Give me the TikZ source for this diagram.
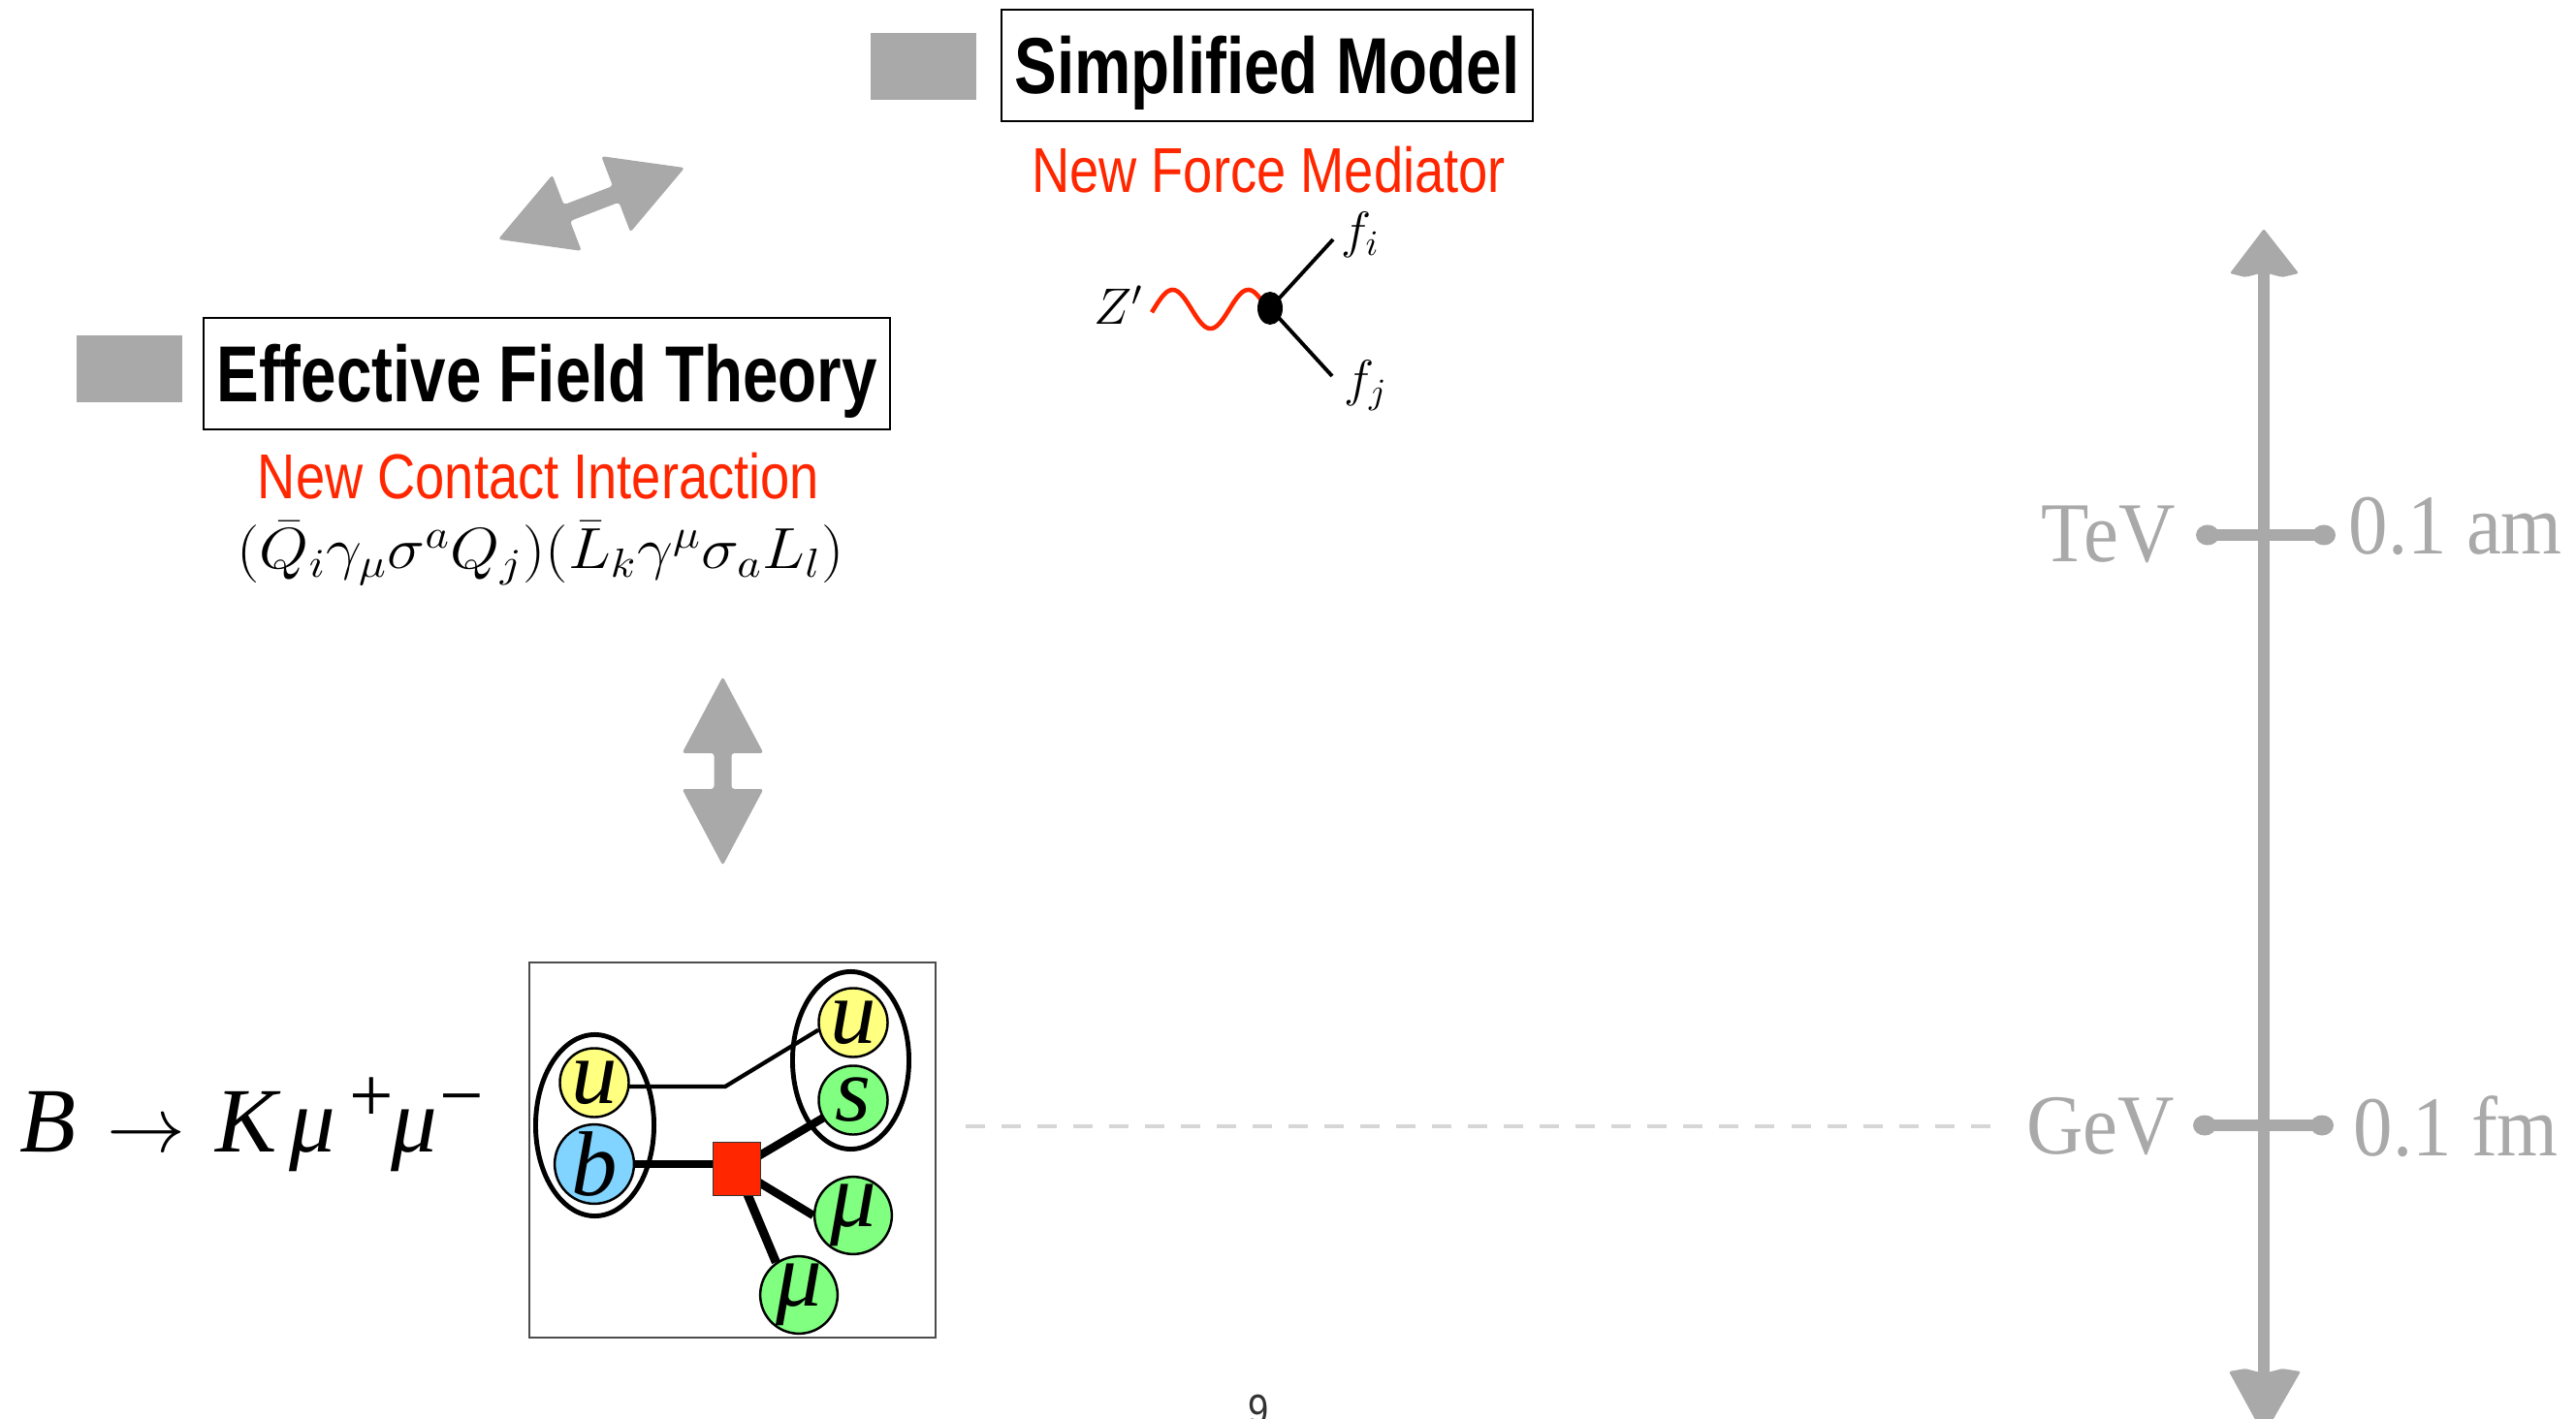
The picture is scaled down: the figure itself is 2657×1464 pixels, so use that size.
\RequirePackage{fix-cm}
\documentclass[tikz,border=0pt]{standalone}
\usepackage{fontspec}
\usetikzlibrary{backgrounds,shapes.geometric}

\newfontfamily\headsans[FakeStretch=0.80]{Liberation Sans}
\newfontfamily\subsans[FakeStretch=0.83]{Liberation Sans}
\newfontfamily\scaleserif[FakeStretch=0.92]{Liberation Serif}
\newfontfamily\quarkserif{Liberation Serif}
\newfontfamily\pagesans[FakeStretch=0.85]{Liberation Sans}

\definecolor{keyred}{RGB}{255,38,0}
\definecolor{sketchgray}{RGB}{169,169,169}
\definecolor{dashgray}{RGB}{214,214,214}
\definecolor{qyellow}{RGB}{255,255,128}
\definecolor{qblue}{RGB}{128,212,255}
\definecolor{qgreen}{RGB}{128,255,128}

\begin{document}
\begin{tikzpicture}[x=0.01cm, y=-0.01cm,
  titlebox/.style={draw=black, line width=0.6pt, inner sep=0pt,
    font={\headsans\bfseries\fontsize{23.3pt}{28pt}\selectfont},
    text height=0.587cm, text depth=0pt},
  marker/.style={fill=sketchgray, draw=none, inner sep=0pt,
    minimum width=1.09cm, minimum height=0.69cm},
  redlabel/.style={text=keyred, inner sep=0pt,
    font={\subsans\fontsize{18.6pt}{22pt}\selectfont},
    text height=0.469cm, text depth=0pt},
  scalelabel/.style={text=sketchgray, inner sep=0pt,
    font={\scaleserif\fontsize{25pt}{30pt}\selectfont}},
  quark/.style={circle, draw=black, line width=0.7pt, minimum size=0.71cm,
    inner sep=0pt, font={\quarkserif\itshape\fontsize{27pt}{30pt}\selectfont}},
  hadron/.style={ellipse, draw=black, line width=1.4pt, inner sep=0pt},
  feynlabel/.style={inner sep=0pt, font={\fontsize{15pt}{18pt}\selectfont}},
  sketcharrow/.style={fill=sketchgray, draw=none, rounded corners=0.03cm},
  tickline/.style={draw=sketchgray, line width=0.12cm},
]
\useasboundingbox (0,0) rectangle (2657,1464);

% ---------- titles ----------
\node[marker] (smmark) at (952.5,68.5) {};
\node[titlebox, minimum width=5.48cm, minimum height=1.15cm] (sm) at (1307,67.5) {Simplified Model};
\node[redlabel] (nfm) at (1308.5,175.5) {New Force Mediator};

\node[marker] (eftmark) at (133.5,380.5) {};
\node[titlebox, minimum width=7.08cm, minimum height=1.15cm] (eft) at (564,385.5) {Effective Field Theory};
\node[redlabel] (nci) at (555.5,491.5) {New Contact Interaction};
\node[inner sep=0pt, anchor=base, font={\fontsize{17pt}{20pt}\selectfont}] (op) at (557.5,587)
  {\scalebox{1.1}[1]{$(\bar{Q}_i\gamma_\mu\sigma^a Q_j)(\bar{L}_k\gamma^\mu\sigma_a L_l)$}};

% ---------- sketched double arrows ----------
\begin{scope}[shift={(610,210)}, rotate=21]
  \fill[sketcharrow] (-103,0) -- (-27,-42) -- (-27,-9) -- (27,-9) -- (27,-42) -- (103,0)
    -- (27,42) -- (27,9) -- (-27,9) -- (-27,42) -- cycle;
\end{scope}
\begin{scope}[shift={(745.5,795.5)}, rotate=90]
  \fill[sketcharrow] (-97.5,0) -- (-18.5,-42) -- (-18.5,-9) -- (18.5,-9) -- (18.5,-42) -- (97.5,0)
    -- (18.5,42) -- (18.5,9) -- (-18.5,9) -- (-18.5,42) -- cycle;
\end{scope}

% ---------- Z' vertex ----------
\node[feynlabel, anchor=east] (zp) at (1180,315) {$Z'$};
\node[ellipse, fill=black, minimum width=0.26cm, minimum height=0.34cm, inner sep=0pt] (vtx) at (1310,318) {};
\coordinate (fiend) at (1375,247);
\coordinate (fjend) at (1374,388);
\node[feynlabel] (fi) at (1403,242) {$f_i$};
\node[feynlabel] (fj) at (1409,398) {$f_j$};
\begin{scope}[on background layer]
  % wavy propagator running into the vertex
  \draw[keyred, line width=1.3pt] plot[domain=0:118, samples=80, smooth]
    (1188+\x, {319-20*sin(4.6154*(\x-2))});
  \draw[line width=1.1pt] (vtx.center) -- (fiend);
  \draw[line width=1.1pt] (vtx.center) -- (fjend);
\end{scope}

% ---------- B -> K mu mu ----------
\node[anchor=base west, inner sep=0pt, font={\quarkserif\itshape\fontsize{27pt}{32pt}\selectfont}] (decay) at (20,1188)
  {\makebox[0.90cm][l]{B}%
   \makebox[1.12cm][l]{\fontsize{23pt}{26pt}\selectfont$\rightarrow$}%
   \makebox[0.76cm][l]{K}%
   \makebox[0.62cm][l]{μ}%
   \makebox[0.43cm][l]{\raisebox{0.30cm}{\fontsize{23pt}{26pt}\selectfont\upshape +}}%
   \makebox[0.50cm][l]{μ}%
   \raisebox{0.30cm}{\fontsize{23pt}{26pt}\selectfont\upshape −}};

\node[draw=black!70, line width=0.45pt, minimum width=4.19cm, minimum height=3.87cm, inner sep=0pt] (frame) at (755.5,1186.5) {};
\node[quark, fill=qyellow] (uL) at (613,1117) {u};
\node[quark, fill=qblue] (bL) at (613,1201) {b};
\node[quark, fill=qyellow] (uR) at (880,1055) {u};
\node[quark, fill=qgreen] (sR) at (880,1135) {s};
\node[quark, fill=qgreen] (muA) at (880,1254) {μ};
\node[quark, fill=qgreen] (muB) at (824,1336) {μ};
\node[hadron, minimum width=1.22cm, minimum height=1.87cm] (Bmeson) at (613.5,1161) {};
\node[hadron, minimum width=1.20cm, minimum height=1.83cm] (Kmeson) at (877.5,1094) {};
\node[fill=keyred, draw=black!80, line width=0.4pt, minimum width=0.49cm, minimum height=0.55cm, inner sep=0pt] (vert) at (760,1206) {};
\coordinate (kink) at (748,1121);
\begin{scope}[on background layer]
  \draw[line width=1.2pt] (uL.center |- kink) -- (kink) -- (uR.192);
  \draw[line width=2.4pt] (bL.center) -- (bL.center -| vert.center);
  \draw[line width=2.4pt] (vert.center) -- (sR.center);
  \draw[line width=2.4pt] (vert.center) -- (muA.west);
  \draw[line width=2.6pt] (vert.center) -- (muB.125);
\end{scope}

% ---------- energy scale ----------
\coordinate (axtop) at (2335,236);
\coordinate (axbot) at (2335,1481);
\coordinate (shafttop) at (2335,278);
\coordinate (shaftbot) at (2335,1420);
\draw[sketchgray, line width=0.12cm] (shafttop) -- (shaftbot);
\fill[sketchgray, rounded corners=0.02cm] (axtop) -- (2300,282) -- (2316,286) -- (2335,281)
  -- (2354,286) -- (2371,282) -- cycle;
\fill[sketchgray, rounded corners=0.02cm] (axbot) -- (2299,1415) -- (2316,1412) -- (2335,1417)
  -- (2354,1412) -- (2373,1415) -- cycle;

\coordinate (tevL) at (2277,552);
\coordinate (tevR) at (2397,552);
\coordinate (gevL) at (2274,1161);
\coordinate (gevR) at (2395,1161);
\draw[tickline] (tevL) -- (tevR);
\draw[tickline] (gevL) -- (gevR);
\foreach \p in {tevL,tevR,gevL,gevR}
  \fill[sketchgray] (\p) ellipse [x radius=0.12cm, y radius=0.105cm];

\node[scalelabel, anchor=base east] (tev) at (2244,580) {TeV};
\node[scalelabel, anchor=base west] (am) at (2422,571) {0.1 am};
\node[scalelabel, anchor=base east] (gev) at (2244,1190) {GeV};
\node[scalelabel, anchor=base west] (fm) at (2427,1192) {0.1 fm};

\coordinate (dashL) at (996,1162);
\coordinate (dashR) at (2064,1162);
\draw[dashgray, line width=0.04cm, dash pattern=on 0.2cm off 0.17cm] (dashL) -- (dashR);

% ---------- page number ----------
\node[anchor=base, inner sep=0pt, text=black!80, font={\pagesans\fontsize{12.8pt}{15pt}\selectfont}] (pnum) at (1298,1470) {9};
\end{tikzpicture}
\end{document}
